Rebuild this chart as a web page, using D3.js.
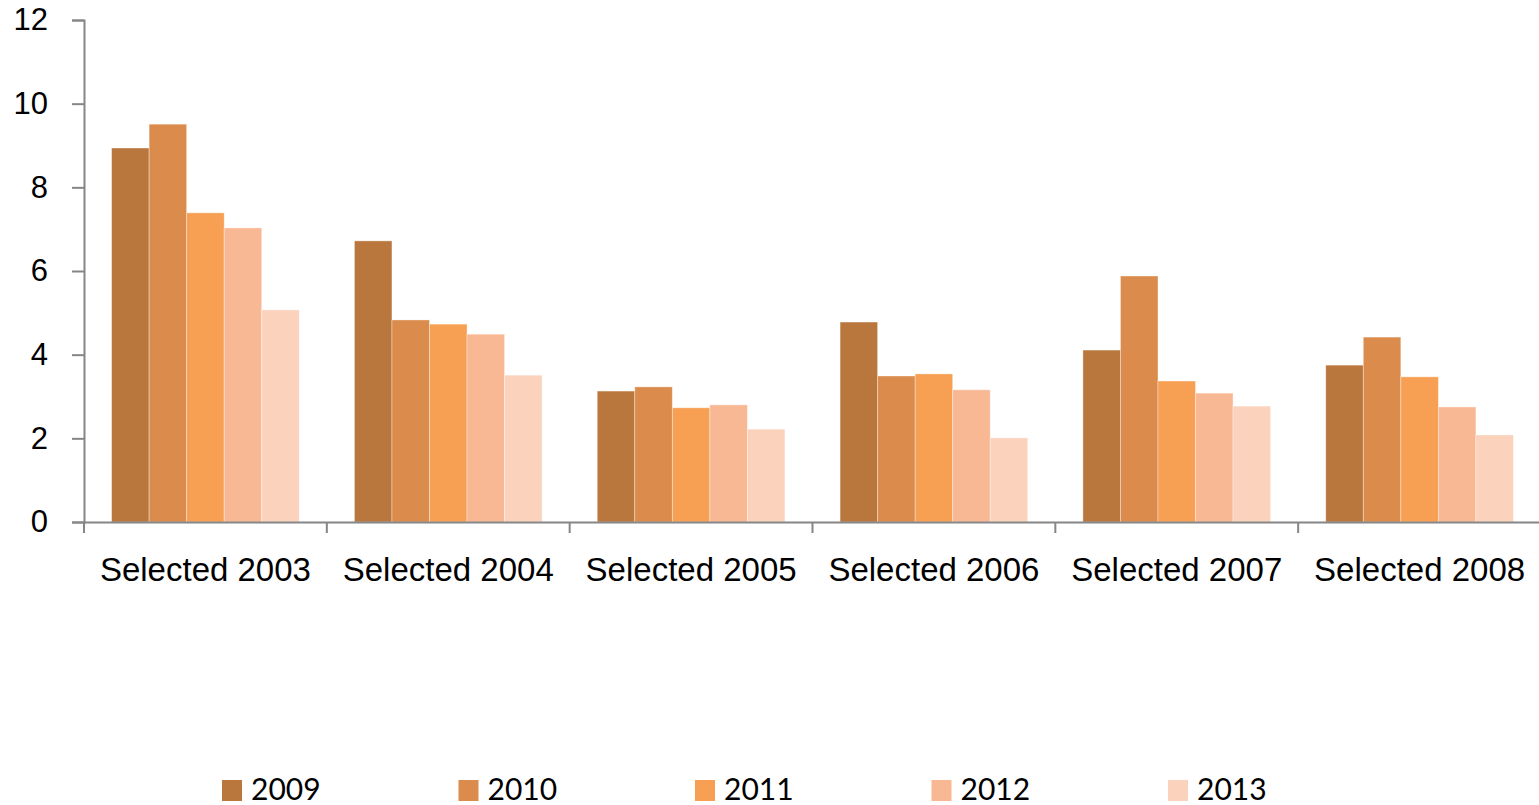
<!DOCTYPE html>
<html>
<head>
<meta charset="utf-8">
<script src="https://cdn.jsdelivr.net/npm/d3@7"></script>
<style>
  body { margin: 0; background: #fff; }
  svg { display: block; font-family: Lato, "Open Sans", sans-serif; }
</style>
</head>
<body>
<div id="chart"></div>
<script>
// categories and series
const categories = ['Selected 2003', 'Selected 2004', 'Selected 2005', 'Selected 2006', 'Selected 2007', 'Selected 2008'];
const years = ['2009', '2010', '2011', '2012', '2013'];
const v2009 = [8.94, 6.72, 3.13, 4.78, 4.11, 3.75];
const v2010 = [9.51, 4.83, 3.23, 3.49, 5.88, 4.42];
const v2011 = [7.39, 4.73, 2.73, 3.54, 3.37, 3.47];
const v2012 = [7.03, 4.49, 2.80, 3.16, 3.08, 2.75];
const v2013 = [5.07, 3.51, 2.22, 2.01, 2.77, 2.08];
const yTicks = [0, 2, 4, 6, 8, 10, 12];

const seriesVals = [v2009, v2010, v2011, v2012, v2013];
const colors = ['#BA773D', '#DB8B4B', '#F79F53', '#F9B894', '#FBD2BC'];

const W = 1539, H = 805;
const margin = { top: 20, right: 0, bottom: 283, left: 84 };
const width = W - margin.left - margin.right + 2;
const height = H - margin.top - margin.bottom;

const svg = d3.select('#chart').append('svg')
  .attr('width', W)
  .attr('height', H);

const g = svg.append('g')
  .attr('transform', `translate(${margin.left},${margin.top})`);

const x0 = d3.scaleBand()
  .domain(categories)
  .range([0, width])
  .paddingInner(0)
  .paddingOuter(0);

// gap between groups is about 1.47 bar widths
const x1 = d3.scaleBand()
  .domain(years)
  .range([0, x0.bandwidth()])
  .paddingInner(0)
  .paddingOuter(0.735);

const y = d3.scaleLinear()
  .domain([0, 12])
  .range([height, 0]);

// bars
const groups = g.selectAll('.grp')
  .data(categories)
  .enter().append('g')
  .attr('class', 'grp')
  .attr('transform', d => `translate(${x0(d)},0)`);

groups.selectAll('rect')
  .data((c, i) => years.map((yr, j) => ({ yr, j, v: seriesVals[j][i] })))
  .enter().append('rect')
  .attr('x', d => x1(d.yr))
  .attr('y', d => y(d.v))
  .attr('width', x1.bandwidth())
  .attr('height', d => height - y(d.v))
  .attr('fill', d => colors[d.j])
  .attr('stroke', '#fff')
  .attr('stroke-opacity', 0.45)
  .attr('stroke-width', 0.8);

// y axis
const yAxis = g.append('g')
  .call(d3.axisLeft(y).tickValues(yTicks).tickSize(12).tickPadding(24));
yAxis.selectAll('text')
  .style('font-size', '31px')
  .attr('fill', '#000');
yAxis.selectAll('line').attr('stroke', '#868686').attr('stroke-width', 2);
yAxis.select('.domain').attr('stroke', '#868686').attr('stroke-width', 2);

// x axis
const xAxis = g.append('g')
  .attr('transform', `translate(0,${height})`)
  .call(d3.axisBottom(x0).tickSize(0).tickPadding(36));
xAxis.select('.domain').attr('stroke', '#868686').attr('stroke-width', 2);
xAxis.selectAll('text')
  .style('font-size', '33px')
  .attr('fill', '#000');

// category separators
g.append('g').selectAll('line')
  .data(d3.range(categories.length + 1))
  .enter().append('line')
  .attr('x1', i => i * x0.bandwidth())
  .attr('x2', i => i * x0.bandwidth())
  .attr('y1', height)
  .attr('y2', height + 11)
  .attr('stroke', '#868686')
  .attr('stroke-width', 2);

// legend
const legend = svg.append('g')
  .attr('transform', 'translate(222,780)');

const item = legend.selectAll('g')
  .data(years)
  .enter().append('g')
  .attr('transform', (d, i) => `translate(${i * 236.5},0)`);

item.append('rect')
  .attr('width', 20)
  .attr('height', 21)
  .attr('fill', (d, i) => colors[i]);

item.append('text')
  .attr('x', 29)
  .attr('y', 20)
  .style('font-size', '30px')
  .attr('fill', '#000')
  .text(d => d);
</script>
</body>
</html>
